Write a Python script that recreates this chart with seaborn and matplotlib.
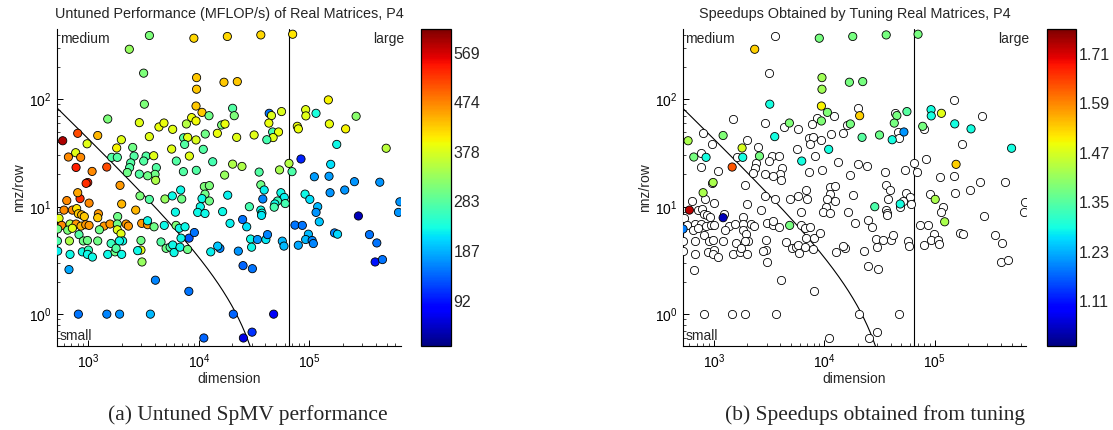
import numpy as np
import pandas as pd
import matplotlib
matplotlib.use("Agg")
import matplotlib.pyplot as plt
import seaborn as sns
from matplotlib.colors import Normalize
from matplotlib.cm import ScalarMappable
from matplotlib.ticker import LogLocator, NullFormatter

# ---------------- data ----------------
dimension = [
    3210, 9420, 10670, 12350, 20200, 20900, 8600, 9420, 7710, 1496,
    2890, 4350, 4830, 5790, 16080, 17230, 14700, 11420, 21980, 31620,
    800, 1214, 585, 973, 1987, 1803, 2517, 2590, 7280, 7920,
    7430, 9420, 5670, 10960, 8200, 6250, 13340, 20200, 24550, 659,
    767, 851, 773, 1466, 1080, 1626, 1827, 2415, 2360, 2250,
    3330, 3900, 3165, 4120, 4009, 4060, 3440, 2890, 7240, 9480,
    17100, 986, 953, 1933, 11200, 12440, 11360, 10670, 12440, 10300,
    9750, 11360, 18240, 28640, 16400, 19140, 24880, 27100, 29400, 30000,
    22750, 15500, 14800, 12800, 637, 840, 800, 1014, 2000, 2930,
    3560, 4930, 5750, 6840, 6990, 6130, 2680, 542, 601, 716,
    783, 811, 869, 918, 1231, 1214, 1840, 573, 682, 773,
    857, 946, 1014, 1384, 1569, 1827, 2193, 2300, 3036, 3440,
    3430, 3930, 4860, 6210, 6650, 7490, 8150, 9100, 6890, 527,
    650, 716, 822, 900, 980, 1257, 1827, 1972, 2040, 524,
    673, 1214, 1604, 1906, 2990, 2990, 2790, 4540, 5050, 5490,
    5800, 5960, 6750, 7900, 527, 682, 881, 1000, 980, 1087,
    1496, 1743, 1780, 2000, 3054, 3560,
    3565, 9010, 18100, 36360, 2345, 3162, 9530, 9530, 16870, 22280,
    70600, 43300, 45400, 56000, 43000, 46500, 52600, 47000, 41200, 35100,
    36360, 39000, 37900, 53700, 55260, 59300, 51500, 48700, 60500, 48060,
    36360, 37200, 148600, 92600, 93000, 114900, 151700, 213000, 265000, 77800,
    79500, 177000, 496000, 65400, 69700, 84000, 156000, 111000, 150700, 256000,
    434000, 91400, 101000, 119000, 115000, 154000, 209000, 660000, 641000, 278000,
    74100, 86400, 123000, 169000, 180000, 350000, 408000, 394000, 459000, 98000,
    92600, 106000, 108700, 79400, 56900, 58900, 33900, 40400, 41800, 36900,
    667, 4040, 8110, 811, 1468, 1915, 3640, 20500, 47500, 11090,
    25300, 30300, 25100, 30500,
]
nnz_per_row = [
    90, 86.5, 75.5, 70.3, 82.4, 70.3, 67.5, 62.8, 58.9, 65.5,
    60.6, 55.2, 60.1, 52.5, 57.6, 58.9, 48.2, 47.5, 44.2, 46.5,
    48.2, 46, 41.1, 38.5, 42, 35.2, 35.6, 29.6, 43.8, 44.2,
    38, 41.8, 34.4, 34.2, 29.6, 26.6, 26.2, 24.9, 23.7, 29,
    31.8, 28.8, 23.2, 23.4, 21.3, 28.8, 28.8, 25.6, 23.1, 20.8,
    29.6, 29.8, 26.6, 23.1, 20, 17.6, 19.4, 20.1, 21.2, 21.8,
    19.7, 16.8, 16.5, 15.8, 15.4, 15.7, 13.1, 11.9, 11.3, 10,
    8.85, 8.65, 12.8, 10, 9, 7, 7.6, 6.5, 5, 4.2,
    3.86, 4.1, 4.3, 3.8, 11.4, 11.9, 13.5, 10.8, 10.6, 12.6,
    11.7, 11.8, 12.6, 14.3, 11.8, 8.9, 9.3, 7.8, 9.3, 9.3,
    9.6, 8.6, 8.4, 8.1, 8.6, 7.9, 8.1, 6.7, 6.9, 6.9,
    6.6, 6.8, 6.7, 6.6, 6.9, 6.9, 6.9, 6.6, 7.0, 6.8,
    7.4, 6.5, 6.7, 6.7, 6.3, 6.5, 5.1, 5.75, 5.1, 6.2,
    6.05, 6.3, 5.5, 4.8, 4.85, 6.1, 6.1, 5.6, 4.8, 4.8,
    4.8, 4.8, 4.55, 4.8, 4.85, 3.95, 3.9, 4.7, 4.1, 4.2,
    4.4, 3.74, 4.2, 4.0, 3.86, 3.6, 3.8, 3.95, 3.6, 3.4,
    3.6, 3.8, 4.1, 3.6, 3.06, 44.9,
    392, 370, 384, 397, 292, 175, 159, 124, 144, 146,
    403, 74, 70.5, 76.8, 60, 49.6, 49.6, 44, 42, 21,
    16, 14.3, 11.8, 22, 13.5, 12.2, 11.3, 10.6, 10.7, 9.9,
    9.3, 8.7, 98.6, 80, 70, 74, 59, 53, 69.5, 56,
    53, 38, 35, 25.3, 21.2, 27.8, 24.8, 19, 19.2, 17.1,
    16.9, 13.1, 11.7, 10, 8.85, 13.5, 14.3, 11.1, 8.85, 8.2,
    6.74, 6.7, 7.24, 5.7, 5.55, 5.5, 4.6, 3.06, 3.22, 5.55,
    4.95, 4.85, 4.54, 4.38, 4.78, 4.3, 4.95, 4.95, 5.5, 8.3,
    2.6, 2.07, 1.63, 1.0, 1.0, 1.0, 1.0, 1.0, 1.0, 0.6,
    0.6, 0.68, 2.83, 2.65,
]
mflops = [
    310, 430, 430, 300, 280, 310, 390, 395, 350, 310,
    385, 390, 390, 385, 310, 390, 390, 300, 385, 385,
    510, 440, 590, 385, 385, 400, 300, 280, 280, 385,
    280, 380, 385, 280, 385, 280, 270, 345, 345, 470,
    385, 470, 540, 510, 470, 280, 280, 280, 280, 300,
    280, 385, 280, 280, 300, 345, 300, 280, 280, 280,
    330, 540, 530, 460, 310, 310, 300, 230, 300, 230,
    230, 230, 225, 270, 230, 225, 150, 215, 230, 230,
    170, 160, 200, 225, 470, 530, 450, 470, 440, 310,
    280, 330, 230, 230, 300, 230, 440, 385, 470, 470,
    410, 430, 440, 430, 460, 430, 300, 470, 345, 460,
    440, 460, 460, 460, 460, 300, 460, 460, 460, 460,
    230, 300, 230, 310, 230, 230, 130, 150, 230, 300,
    310, 385, 280, 300, 300, 300, 385, 385, 230, 275,
    345, 300, 260, 230, 300, 385, 230, 280, 300, 280,
    230, 230, 230, 300, 225, 230, 230, 260, 230, 230,
    230, 300, 280, 230, 330, 385,
    310, 420, 420, 420, 330, 310, 430, 430, 430, 430,
    410, 150, 380, 380, 390, 270, 390, 385, 270, 280,
    300, 225, 160, 340, 230, 225, 260, 230, 270, 270,
    230, 230, 400, 385, 385, 235, 390, 400, 320, 390,
    390, 230, 355, 350, 275, 100, 215, 175, 175, 170,
    170, 230, 215, 190, 170, 170, 170, 170, 170, 35,
    150, 150, 200, 160, 210, 150, 150, 90, 150, 190,
    190, 160, 160, 180, 190, 190, 170, 220, 160, 220,
    180, 160, 150, 150, 160, 170, 190, 140, 70, 140,
    60, 110, 140, 150,
]
speedup = [
    1.29, 1.50, 1.39, 1.0, 1.0, 1.53, 1.0, 1.39, 1.0, 1.0,
    1.0, 1.0, 1.39, 1.0, 1.0, 1.38, 1.0, 1.0, 1.35, 1.37,
    1.0, 1.39, 1.43, 1.0, 1.0, 1.47, 1.0, 1.38, 1.0, 1.0,
    1.0, 1.0, 1.0, 1.29, 1.0, 1.29, 1.0, 1.0, 1.0, 1.38,
    1.0, 1.29, 1.0, 1.63, 1.0, 1.0, 1.29, 1.0, 1.0, 1.0,
    1.0, 1.0, 1.0, 1.0, 1.0, 1.0, 1.0, 1.0, 1.0, 1.0,
    1.0, 1.43, 1.0, 1.0, 1.0, 1.0, 1.0, 1.0, 1.0, 1.0,
    1.0, 1.0, 1.0, 1.34, 1.0, 1.0, 1.0, 1.0, 1.0, 1.0,
    1.0, 1.0, 1.0, 1.0, 1.0, 1.0, 1.43, 1.0, 1.0, 1.0,
    1.0, 1.0, 1.0, 1.0, 1.0, 1.0, 1.0, 1.0, 1.73, 1.0,
    1.0, 1.0, 1.0, 1.0, 1.0, 1.04, 1.0, 1.0, 1.0, 1.0,
    1.0, 1.0, 1.0, 1.0, 1.0, 1.0, 1.0, 1.0, 1.0, 1.0,
    1.0, 1.0, 1.38, 1.0, 1.0, 1.0, 1.0, 1.0, 1.0, 1.19,
    1.0, 1.0, 1.0, 1.0, 1.0, 1.0, 1.0, 1.0, 1.0, 1.0,
    1.0, 1.0, 1.0, 1.0, 1.0, 1.0, 1.0, 1.0, 1.0, 1.0,
    1.0, 1.0, 1.0, 1.0, 1.0, 1.0, 1.0, 1.0, 1.0, 1.0,
    1.0, 1.0, 1.0, 1.0, 1.0, 1.29,
    1.0, 1.38, 1.38, 1.38, 1.53, 1.0, 1.42, 1.42, 1.38, 1.38,
    1.38, 1.0, 1.38, 1.35, 1.38, 1.0, 1.21, 1.0, 1.29, 1.0,
    1.0, 1.0, 1.0, 1.0, 1.0, 1.0, 1.0, 1.29, 1.0, 1.0,
    1.0, 1.0, 1.0, 1.29, 1.29, 1.48, 1.29, 1.29, 1.0, 1.38,
    1.0, 1.0, 1.29, 1.0, 1.0, 1.0, 1.53, 1.0, 1.0, 1.0,
    1.0, 1.0, 1.43, 1.0, 1.0, 1.0, 1.0, 1.0, 1.0, 1.0,
    1.0, 1.0, 1.43, 1.0, 1.0, 1.0, 1.0, 1.0, 1.0, 1.0,
    1.0, 1.0, 1.0, 1.0, 1.0, 1.0, 1.0, 1.0, 1.0, 1.0,
    1.0, 1.0, 1.0, 1.0, 1.0, 1.0, 1.0, 1.0, 1.0, 1.0,
    1.0, 1.0, 1.0, 1.0,
]

perf_ticks = [92, 187, 283, 378, 474, 569]
perf_range = (3.5, 614)
speedup_ticks = [1.11, 1.23, 1.35, 1.47, 1.59, 1.71]
speedup_range = (1.0, 1.77)
dim_limits = (523, 671000)
row_limits = (0.5, 448)
cache_bytes = 2 ** 19          # boundary "small" (matrix fits in cache)
large_threshold = 65536        # boundary "large" (vector exceeds cache)

titles = ["Untuned Performance (MFLOP/s) of Real Matrices, P4",
          "Speedups Obtained by Tuning Real Matrices, P4"]
captions = ["(a) Untuned SpMV performance", "(b) Speedups obtained from tuning"]

# ---------------- style ----------------
sns.set_style("ticks")
plt.rcParams["font.family"] = ["Liberation Sans", "DejaVu Sans"]
plt.rcParams["mathtext.fontset"] = "custom"
plt.rcParams["mathtext.rm"] = "Liberation Sans"
plt.rcParams["mathtext.it"] = "Liberation Sans"
plt.rcParams["mathtext.default"] = "regular"

jet = matplotlib.colormaps["jet"]

df = pd.DataFrame({"dimension": dimension, "nnz": nnz_per_row,
                   "mflops": mflops, "speedup": speedup})

fig = plt.figure(figsize=(11.13, 4.30), dpi=100)
ax1 = fig.add_axes([0.0515, 0.1942, 0.3085, 0.7377])
cax1 = fig.add_axes([0.3780, 0.1942, 0.0270, 0.7377])
ax2 = fig.add_axes([0.6134, 0.1942, 0.3085, 0.7377])
cax2 = fig.add_axes([0.9404, 0.1942, 0.0264, 0.7377])

norm1 = Normalize(*perf_range)
norm2 = Normalize(*speedup_range)
mk = dict(s=35, edgecolor="black", linewidth=0.6, legend=False, zorder=3)

sns.scatterplot(data=df, x="dimension", y="nnz", hue="mflops", palette=jet,
                hue_norm=norm1, ax=ax1, **mk)

hollow = df[df["speedup"] <= 1.0]
tuned = df[df["speedup"] > 1.0]
sns.scatterplot(data=hollow, x="dimension", y="nnz", color="white", ax=ax2, **mk)
sns.scatterplot(data=tuned, x="dimension", y="nnz", hue="speedup", palette=jet,
                hue_norm=norm2, ax=ax2, **mk)

n_grid = np.logspace(np.log10(dim_limits[0]), np.log10(dim_limits[1]), 600)
small_boundary = cache_bytes / (12.0 * n_grid) - 1.0

for ax, title in zip([ax1, ax2], titles):
    ax.set_xscale("log")
    ax.set_yscale("log")
    ax.set_xlim(*dim_limits)
    ax.set_ylim(*row_limits)
    ok = small_boundary > 0
    ax.plot(n_grid[ok], small_boundary[ok], color="black", lw=0.8, zorder=2)
    ax.axvline(large_threshold, color="black", lw=0.8, zorder=2)
    ax.xaxis.set_major_locator(LogLocator(base=10, numticks=10))
    ax.yaxis.set_major_locator(LogLocator(base=10, numticks=10))
    ax.xaxis.set_minor_locator(LogLocator(base=10, subs=np.arange(2, 10), numticks=20))
    ax.yaxis.set_minor_locator(LogLocator(base=10, subs=np.arange(2, 10), numticks=20))
    ax.xaxis.set_minor_formatter(NullFormatter())
    ax.yaxis.set_minor_formatter(NullFormatter())
    ax.tick_params(which="major", direction="in", length=4, width=0.7,
                   labelsize=10, top=False, right=False, pad=4, colors="black")
    ax.tick_params(which="minor", direction="in", length=2, width=0.6,
                   top=False, right=False)
    for side in ["top", "right"]:
        ax.spines[side].set_visible(False)
    for side in ["left", "bottom"]:
        ax.spines[side].set_linewidth(0.8)
        ax.spines[side].set_color("black")
    ax.set_xlabel("dimension", fontsize=10, labelpad=1)
    ax.set_ylabel("nnz/row", fontsize=10, labelpad=2)
    ax.set_title(title, fontsize=10.4, pad=8)
    ax.text(0.008, 0.992, "medium", transform=ax.transAxes, fontsize=10,
            ha="left", va="top")
    ax.text(0.008, 0.02, "small", transform=ax.transAxes, fontsize=10,
            ha="left", va="baseline")
    ax.text(1.01, 0.992, "large", transform=ax.transAxes, fontsize=10,
            ha="right", va="top")

for cax, norm, ticks in [(cax1, norm1, perf_ticks), (cax2, norm2, speedup_ticks)]:
    cb = fig.colorbar(ScalarMappable(norm=norm, cmap=jet), cax=cax, ticks=ticks)
    cb.outline.set_linewidth(0.9)
    cb.outline.set_edgecolor("black")
    cax.tick_params(direction="in", length=4, width=0.7, labelsize=11.5,
                    left=True, right=True, pad=2)
    cax.minorticks_off()

fig.text(0.2231, 0.0233, captions[0], fontsize=15.5, family="Liberation Serif",
         ha="center", va="baseline")
fig.text(0.7859, 0.0233, captions[1], fontsize=15.5, family="Liberation Serif",
         ha="center", va="baseline")

fig.savefig("out.png", dpi=100)
